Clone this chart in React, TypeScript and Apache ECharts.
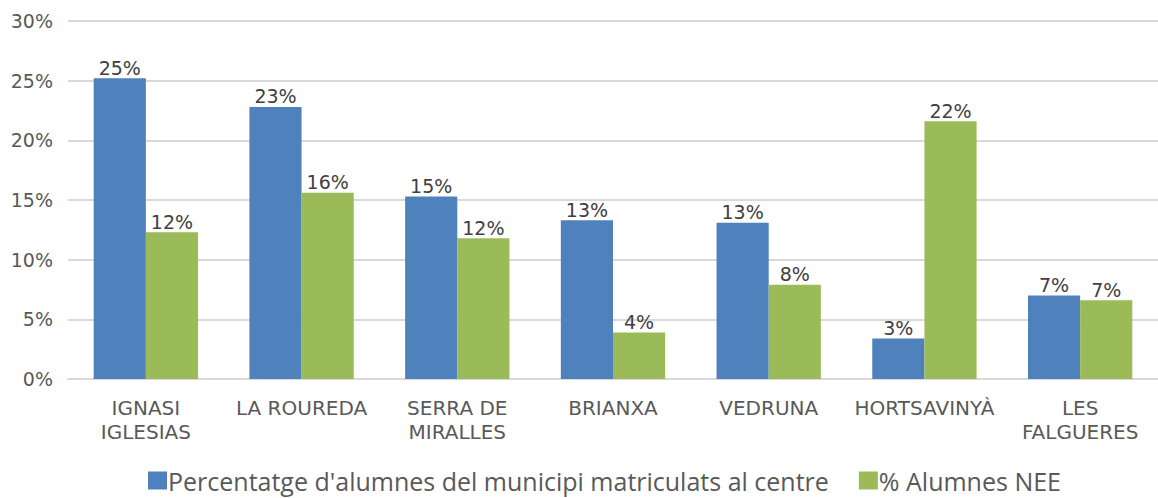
import React, { useEffect, useRef } from "react";
import * as echarts from "echarts";

const categories = ["IGNASI\nIGLESIAS", "LA ROUREDA", "SERRA DE\nMIRALLES", "BRIANXA", "VEDRUNA", "HORTSAVINYÀ", "LES\nFALGUERES"];
const seriesNames = ["Percentatge d'alumnes del municipi matriculats al centre", "% Alumnes NEE"];
const municipi = [25.2, 22.8, 15.3, 13.3, 13.1, 3.4, 7.0];
const nee = [12.3, 15.6, 11.8, 3.9, 7.9, 21.6, 6.6];
const yTicks = [0, 5, 10, 15, 20, 25, 30];

export default function App() {
  const ref = useRef<HTMLDivElement>(null);
  useEffect(() => {
    const chart = echarts.init(ref.current!, null, { renderer: "svg" });
    const label = {
      show: true,
      position: "top" as const,
      distance: 1,
      color: "#404040",
      fontFamily: "DejaVu Sans",
      fontSize: 19,
      formatter: (p: any) => Math.round(p.value) + "%",
    };
    chart.setOption({
      animation: false,
      grid: { left: 68, right: 0, top: 21, bottom: 119, containLabel: false },
      legend: {
        bottom: 0,
        left: 143,
        itemWidth: 19,
        itemHeight: 18,
        itemGap: 30,
        icon: "rect",
        textStyle: { color: "#595959", fontFamily: "Open Sans", fontSize: 25, padding: [0, 0, 0, -4] },
        data: seriesNames,
      },
      xAxis: {
        type: "category",
        data: categories,
        axisLine: { show: true, lineStyle: { color: "#d9d9d9", width: 2 } },
        axisTick: { show: false },
        axisLabel: { interval: 0, color: "#595959", fontFamily: "DejaVu Sans", fontSize: 20, lineHeight: 24, margin: 17 },
      },
      yAxis: {
        type: "value",
        min: 0,
        max: 30,
        interval: 5,
        axisLine: { show: false },
        axisTick: { show: false },
        splitLine: { lineStyle: { color: "#d9d9d9", width: 2 } },
        axisLabel: {
          color: "#595959",
          fontFamily: "DejaVu Sans",
          fontSize: 19,
          margin: 15,
          formatter: (v: number) => (yTicks.includes(v) ? v + "%" : ""),
        },
      },
      series: [
        {
          name: seriesNames[0],
          type: "bar",
          data: municipi,
          barGap: "0%",
          barCategoryGap: "33%",
          itemStyle: { color: "#4f81bd" },
          label,
        },
        {
          name: seriesNames[1],
          type: "bar",
          data: nee,
          itemStyle: { color: "#9bbb59" },
          label,
        },
      ],
    });
    return () => chart.dispose();
  }, []);
  return <div ref={ref} style={{ width: 1158, height: 498, position: "absolute", left: 0, top: 0 }} />;
}
